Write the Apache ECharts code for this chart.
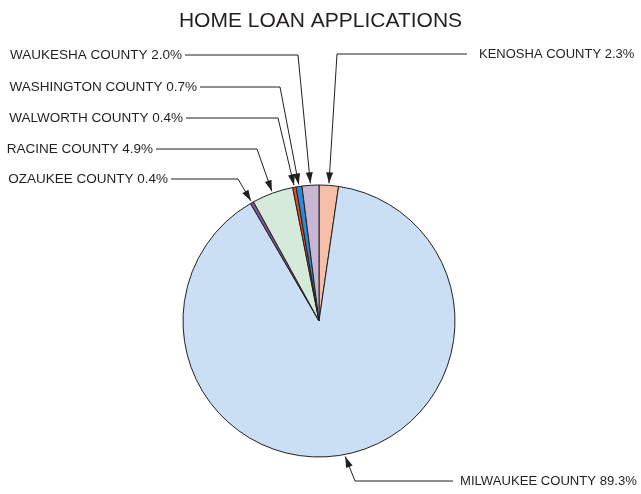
<!DOCTYPE html>
<html>
<head>
<meta charset="utf-8">
<script src="https://cdn.jsdelivr.net/npm/echarts@6/dist/echarts.min.js"></script>
<style>
  html, body { margin: 0; padding: 0; background: #ffffff; }
  #chart { width: 641px; height: 494px; }
</style>
</head>
<body>
<div id="chart"></div>
<script>
// Share of home loan applications by county (percent)
const counties = ['KENOSHA COUNTY', 'MILWAUKEE COUNTY', 'OZAUKEE COUNTY', 'RACINE COUNTY',
                  'WALWORTH COUNTY', 'WASHINGTON COUNTY', 'WAUKESHA COUNTY'];
const shares = [2.3, 89.3, 0.4, 4.9, 0.4, 0.7, 2.0];
const sliceColors = ['#f8bfa8', '#cadff3', '#7b5a96', '#d5ead9', '#ee4b2b', '#2a8bd0', '#c8b7d4'];

// Callout placement: elbow point, where the leader line meets the text, text anchor
const callouts = {
  'KENOSHA COUNTY':    { corner: [337, 54],  lineEnd: [467, 54],  text: [479, 54],  align: 'left',  size: 13 },
  'MILWAUKEE COUNTY':  { corner: [355, 481], lineEnd: [453, 481], text: [460, 481], align: 'left',  size: 13.1 },
  'OZAUKEE COUNTY':    { corner: [238, 179], lineEnd: [171, 179], text: [168, 179], align: 'right', size: 13.5 },
  'RACINE COUNTY':     { corner: [257, 149], lineEnd: [156, 149], text: [153, 149], align: 'right', size: 13.5 },
  'WALWORTH COUNTY':   { corner: [278, 118], lineEnd: [186, 118], text: [183, 118], align: 'right', size: 13.5 },
  'WASHINGTON COUNTY': { corner: [280, 87],  lineEnd: [200, 87],  text: [197, 87],  align: 'right', size: 13.5 },
  'WAUKESHA COUNTY':   { corner: [298, 55],  lineEnd: [185, 55],  text: [182, 55],  align: 'right', size: 13.5 }
};

const INK = '#231f20';
const FONT = 'Liberation Sans, Arial, sans-serif';
const CX = 319, CY = 321, R = 136;
const total = shares.reduce((a, b) => a + b, 0);

// Point just outside the rim at the middle of each slice (clockwise from 12 o'clock)
const tips = [];
let acc = 0;
shares.forEach(v => {
  const a = (acc + v / 2) / total * 2 * Math.PI;
  tips.push([CX + (R + 2) * Math.sin(a), CY - (R + 2) * Math.cos(a)]);
  acc += v;
});

// Arrowheads at the end of each leader line
const arrowLen = 11, arrowHalf = 3.5;
const arrows = counties.map((name, i) => {
  const c = callouts[name].corner, t = tips[i];
  const dx = t[0] - c[0], dy = t[1] - c[1];
  const len = Math.hypot(dx, dy);
  const ux = dx / len, uy = dy / len;
  const bx = t[0] - ux * arrowLen, by = t[1] - uy * arrowLen;
  return {
    type: 'polygon',
    z: 100,
    silent: true,
    shape: { points: [t, [bx - uy * arrowHalf, by + ux * arrowHalf], [bx + uy * arrowHalf, by - ux * arrowHalf]] },
    style: { fill: INK }
  };
});

const chart = echarts.init(document.getElementById('chart'), null, { renderer: 'canvas' });
chart.setOption({
  animation: false,
  backgroundColor: '#ffffff',
  title: {
    text: 'HOME LOAN APPLICATIONS',
    left: 'center',
    top: 6,
    textStyle: { fontFamily: FONT, fontSize: 21, fontWeight: 'normal', color: INK }
  },
  graphic: arrows,
  series: [{
    type: 'pie',
    center: [CX, CY],
    radius: R,
    startAngle: 90,
    clockwise: true,
    avoidLabelOverlap: false,
    emphasis: { disabled: true },
    itemStyle: { borderColor: INK, borderWidth: 1 },
    data: counties.map((name, i) => ({
      name,
      value: shares[i],
      itemStyle: { color: sliceColors[i] },
      label: { fontSize: callouts[name].size }
    })),
    label: {
      show: true,
      position: 'outside',
      formatter: p => p.name + ' ' + p.value.toFixed(1) + '%',
      fontFamily: FONT,
      fontSize: 13,
      color: INK
    },
    labelLine: { show: true, lineStyle: { color: INK, width: 1 } },
    labelLayout: params => {
      const name = counties[params.dataIndex];
      const c = callouts[name];
      return {
        x: c.text[0],
        y: c.text[1],
        align: c.align,
        verticalAlign: 'middle',
        labelLinePoints: [tips[params.dataIndex], c.corner, c.lineEnd]
      };
    }
  }]
});
</script>
</body>
</html>
